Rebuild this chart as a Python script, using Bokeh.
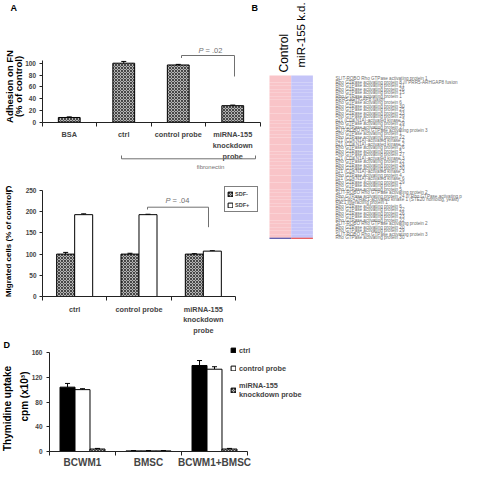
import math
from bokeh.plotting import figure
from bokeh.models import (Range1d, FixedTicker, Label, Arrow, Whisker, TeeHead,
                          Legend, LegendItem, ColumnDataSource)
from bokeh.layouts import column, row
from bokeh.embed import file_html
from bokeh.resources import INLINE
from bokeh.core.properties import value

# ---------------- data ----------------
# Panel A: adhesion on fibronectin (% of control)
a_categories = ["BSA", "ctrl", "control probe", "miRNA-155\nknockdown\nprobe"]
a_adhesion = [8, 100, 97, 28]
a_adhesion_err = [1, 3, 1, 1]
a_yticks = [0, 20, 40, 60, 80, 100]

# Panel B: expression heat map
b_columns = ["Control", "miR-155 k.d."]
b_column_colors = ["#f9c4c8", "#c4c4f8"]
b_key_colors = ["#2c2c96", "#e02c2c"]
b_genes = [
    "SLIT-ROBO Rho GTPase activating protein 1",
    "Rho GTPase activating protein 8 /// PRR5-ARHGAP8 fusion",
    "Rho GTPase activating protein 21",
    "Rho GTPase activating protein 26",
    "Rho GTPase activating protein 15",
    "Rho GTPase activating protein 1",
    "PRR5-ARHGAP8 fusion",
    "Rho GTPase activating protein 6",
    "Rho GTPase activating protein 30",
    "Rho GTPase activating protein 25",
    "Rho GTPase activating protein 23",
    "Rho GTPase activating protein 29",
    "p21 (CDKN1A)-activated kinase 2",
    "Rho GTPase activating protein 29",
    "Rho GTPase activating protein 27",
    "SLIT-ROBO Rho GTPase activating protein 3",
    "Rho GTPase activating protein 1",
    "Rho GTPase activating protein 22",
    "p21 (CDKN1A)-activated kinase 2",
    "p21 (CDKN1A)-activated kinase 2",
    "Rho GTPase activating protein 26",
    "Rho GTPase activating protein 5",
    "Rho GTPase activating protein 27",
    "p21 (CDKN1A)-activated kinase 3",
    "Rho GTPase activating protein 22",
    "Rho GTPase activating protein 24",
    "Rho GTPase activating protein 30",
    "p21 (CDKN1A)-activated kinase 3",
    "Rho GTPase activating protein 4",
    "p21 (CDKN1A)-activated kinase 6",
    "Rho GTPase activating protein 29",
    "Rho GTPase activating protein 7",
    "Rho GTPase activating protein 5",
    "SLIT-ROBO Rho GTPase activating protein 2",
    "Rho GTPase activating protein 24 /// Rho GTPase activating p",
    "p21/Cdc42/Rac1-activated kinase 1 (STE20 homolog, yeast)",
    "Rac1 interacting protein 1",
    "Rho GTPase activating protein 6",
    "Rho GTPase activating protein 22",
    "Rho GTPase activating protein 26",
    "Rho GTPase activating protein 23",
    "Rho GTPase activating protein 22",
    "SLIT-ROBO Rho GTPase activating protein 2",
    "Rho GTPase activating protein 20",
    "Rho GTPase activating protein 29",
    "SLIT-ROBO Rho GTPase activating protein 3",
    "Rho GTPase activating protein 30",
]

# Panel C: migration (% of control)
c_categories = ["ctrl", "control probe", "miRNA-155\nknockdown\nprobe"]
c_series = ["SDF-", "SDF+"]
c_sdf_minus = [100, 100, 100]
c_sdf_minus_err = [4, 2, 1]
c_sdf_plus = [193, 193, 107]
c_sdf_plus_err = [2, 1, 1]
c_yticks = [0, 50, 100, 150, 200, 250]

# Panel D: thymidine uptake (cpm x10^3)
d_categories = ["BCWM1", "BMSC", "BCWM1+BMSC"]
d_series = ["ctrl", "control probe", "miRNA-155\nknockdown probe"]
d_ctrl = [104, 1, 139]
d_ctrl_err = [6, 0.5, 8]
d_control_probe = [100, 1, 133]
d_control_probe_err = [1.5, 0.5, 4]
d_knockdown = [4, 1, 4]
d_knockdown_err = [1, 0.5, 1]
d_yticks = [0, 40, 80, 120, 160]

# ---------------- styles ----------------
SANS = "'Liberation Sans', Arial, sans-serif"
GREY = "#707070"
HATCH = dict(fill_color="#b4b4b4", hatch_pattern="diagonal_cross", hatch_color="#2a2a2a",
             hatch_scale=3.0, hatch_weight=0.8)


def make_fig(w, h, x0, pxx, y0, pxy):
    """Frame covers the whole figure; (x0, y0) is the pixel position of the data origin."""
    p = figure(width=w, height=h,
               x_range=Range1d(-x0 / pxx, (w - x0) / pxx),
               y_range=Range1d(-(h - y0) / pxy, y0 / pxy),
               min_border=0, toolbar_location=None, output_backend="svg")
    p.outline_line_color = None
    p.grid.visible = False
    p.background_fill_color = None
    return p


def style_axes(p, labels, x_size, x_standoff, yticks, ybound, y_size, y_standoff):
    n = len(labels)
    centers = [i + 0.5 for i in range(n)]
    xa = p.xaxis[0]
    xa.fixed_location = 0
    xa.ticker = FixedTicker(ticks=centers, minor_ticks=list(range(n + 1)))
    xa.bounds = (0, n)
    xa.major_label_overrides = dict(zip(centers, labels))
    xa.major_tick_out = 0
    xa.major_tick_in = 0
    xa.minor_tick_out = 4
    xa.minor_tick_in = 0
    xa.axis_line_color = "#222222"
    xa.minor_tick_line_color = "#222222"
    xa.major_label_text_font = SANS
    xa.major_label_text_font_size = x_size
    xa.major_label_text_font_style = "bold"
    xa.major_label_standoff = x_standoff
    ya = p.yaxis[0]
    ya.fixed_location = 0
    ya.ticker = FixedTicker(ticks=yticks)
    ya.bounds = (0, ybound)
    ya.major_tick_out = 3
    ya.major_tick_in = 0
    ya.minor_tick_line_color = None
    ya.axis_line_color = "#222222"
    ya.major_tick_line_color = "#222222"
    ya.major_label_text_font = SANS
    ya.major_label_text_font_size = y_size
    ya.major_label_text_font_style = "bold"
    ya.major_label_standoff = y_standoff


def add_err(p, xs, tops, errs):
    src = ColumnDataSource(dict(x=xs, top=tops, upper=[t + e for t, e in zip(tops, errs)]))
    p.add_layout(Whisker(source=src, base="x", lower="top", upper="upper", dimension="height",
                         line_color="black", line_width=1, lower_head=None,
                         upper_head=TeeHead(size=5, line_color="black", line_width=1)))


def seg(p, x0, y0, x1, y1, color=GREY):
    p.add_layout(Arrow(end=None, x_start=x0, y_start=y0, x_end=x1, y_end=y1,
                       line_color=color, line_width=1))


def lab(p, x, y, text, size, style="normal", color="black",
        align="left", baseline="top", angle=0.0):
    p.add_layout(Label(x=x, y=y, text=text, text_font_size=f"{size}px", text_font=SANS,
                       text_font_style=style, text_color=color, text_align=align,
                       text_baseline=baseline, angle=angle))


LEFT_W = 263

# ---------------- Panel A ----------------
A_W, A_H = LEFT_W, 178
a_x0, a_pxx = 41.5, 54.5
a_y0, a_pxy = 121.7, 0.59
pA = make_fig(A_W, A_H, a_x0, a_pxx, a_y0, a_pxy)


def aX(ix):
    return (ix - a_x0) / a_pxx


def aY(iy):
    return (a_y0 - iy) / a_pxy


a_x = [i + 0.5 for i in range(len(a_categories))]
pA.vbar(x=a_x, top=a_adhesion, width=0.4, line_color="black", line_width=1, **HATCH)
add_err(pA, a_x, a_adhesion, a_adhesion_err)
style_axes(pA, a_categories, "7.3px", 4, a_yticks, 105, "6.5px", 3)

lab(pA, aX(10), aY(2), "A", 9, style="bold")
lab(pA, aX(251), aY(2), "B", 9, style="bold")
lab(pA, aX(8.5), aY(86), "Adhesion on FN", 9.5, style="bold", align="center", baseline="middle", angle=math.pi / 2)
lab(pA, aX(18), aY(86), "(% of control)", 9.5, style="bold", align="center", baseline="middle", angle=math.pi / 2)
# P bracket
seg(pA, aX(181), aY(55), aX(234), aY(55))
seg(pA, aX(181), aY(55), aX(181), aY(57.5))
seg(pA, aX(234), aY(55), aX(234), aY(76))
lab(pA, aX(198), aY(50), "P", 7.5, style="italic", color=GREY, align="left", baseline="middle")
lab(pA, aX(205), aY(50), "= .02", 7.5, color=GREY, align="left", baseline="middle")
# fibronectin bracket
seg(pA, aX(121), aY(158.3), aX(255), aY(158.3))
seg(pA, aX(121), aY(158.3), aX(121), aY(155))
seg(pA, aX(255), aY(158.3), aX(255), aY(155))
lab(pA, aX(210), aY(166), "fibronectin", 6, color=GREY, align="center", baseline="middle")

# ---------------- Panel C ----------------
C_W, C_H = LEFT_W, 160
c_x0, c_pxx = 42.0, 64.33
c_y0, c_pxy = 118.0, 0.424
pC = make_fig(C_W, C_H, c_x0, c_pxx, c_y0, c_pxy)


def cX(ix):
    return (ix - c_x0) / c_pxx


def cY(iy):
    return (c_y0 - iy) / c_pxy


c_bw = 0.28
c_x1 = [i + 0.5 - c_bw / 2 for i in range(len(c_categories))]
c_x2 = [i + 0.5 + c_bw / 2 for i in range(len(c_categories))]
rc1 = pC.vbar(x=c_x1, top=c_sdf_minus, width=c_bw, line_color="black", line_width=1, **HATCH)
rc2 = pC.vbar(x=c_x2, top=c_sdf_plus, width=c_bw, line_color="black", line_width=1, fill_color="white")
add_err(pC, c_x1, c_sdf_minus, c_sdf_minus_err)
add_err(pC, c_x2, c_sdf_plus, c_sdf_plus_err)
style_axes(pC, c_categories, "7.3px", 4, c_yticks, 250, "6.5px", 3)

lab(pC, cX(5), cY(5), "C", 9, style="bold")
lab(pC, cX(7.5), cY(65), "Migrated cells (% of control)", 8, style="bold",
    align="center", baseline="middle", angle=math.pi / 2)
seg(pC, cX(147), cY(28.7), cX(208), cY(28.7))
seg(pC, cX(147), cY(28.7), cX(147), cY(31))
seg(pC, cX(208), cY(28.7), cX(208), cY(48.7))
lab(pC, cX(165), cY(22), "P", 7.5, style="italic", color=GREY, align="left", baseline="middle")
lab(pC, cX(172), cY(22), "= .04", 7.5, color=GREY, align="left", baseline="middle")

legC = Legend(items=[LegendItem(label=c_series[0], renderers=[rc1]),
                     LegendItem(label=c_series[1], renderers=[rc2])],
              location=(224, C_H - 34),
              border_line_color="black", border_line_width=1, background_fill_color="white",
              padding=2, spacing=2, margin=0, glyph_width=6, glyph_height=6,
              label_standoff=2, label_height=9,
              label_text_font=SANS, label_text_font_size="5.5px", label_text_font_style="bold")
pC.add_layout(legC)

# ---------------- Panel D ----------------
D_W, D_H = 464, 131
d_x0, d_pxx = 49.0, 66.0
d_y0, d_pxy = 113.0, 0.61875
pD = make_fig(D_W, D_H, d_x0, d_pxx, d_y0, d_pxy)


def dX(ix):
    return (ix - d_x0) / d_pxx


def dY(iy):
    return (d_y0 - iy) / d_pxy


d_bw = 0.227
d_x1 = [i + 0.5 - d_bw for i in range(len(d_categories))]
d_x2 = [i + 0.5 for i in range(len(d_categories))]
d_x3 = [i + 0.5 + d_bw for i in range(len(d_categories))]
rd1 = pD.vbar(x=d_x1, top=d_ctrl, width=d_bw, line_color="black", line_width=1, fill_color="black")
rd2 = pD.vbar(x=d_x2, top=d_control_probe, width=d_bw, line_color="black", line_width=1, fill_color="white")
rd3 = pD.vbar(x=d_x3, top=d_knockdown, width=d_bw, line_color="black", line_width=1, **HATCH)
add_err(pD, d_x1, d_ctrl, d_ctrl_err)
add_err(pD, d_x2, d_control_probe, d_control_probe_err)
add_err(pD, d_x3, d_knockdown, d_knockdown_err)
style_axes(pD, d_categories, "10px", 1, d_yticks, 160, "6.5px", 4)

lab(pD, dX(3), dY(1), "D", 9, style="bold")
lab(pD, dX(7), dY(70), "Thymidine uptake", 10, style="bold", align="center", baseline="middle", angle=math.pi / 2)
lab(pD, dX(24), dY(58), "cpm (x10\u00b3)", 10, style="bold", align="center", baseline="middle", angle=math.pi / 2)

legD = Legend(items=[LegendItem(label=d_series[0], renderers=[rd1]),
                     LegendItem(label=d_series[1], renderers=[rd2]),
                     LegendItem(label=d_series[2], renderers=[rd3])],
              location=(230, 70),
              border_line_color=None, background_fill_alpha=0,
              padding=0, spacing=8, margin=0, glyph_width=6, glyph_height=6,
              label_standoff=3, label_height=10,
              label_text_font=SANS, label_text_font_size="7.3px", label_text_font_style="bold")
pD.add_layout(legD)

# ---------------- Panel B ----------------
B_W, B_H = 464 - LEFT_W, A_H + C_H
b_x0, b_colw = 6.0, 21.7
b_y0, b_rowh = 75.0, 3.45
pB = figure(width=B_W, height=B_H,
            x_range=Range1d(-b_x0 / b_colw, (B_W - b_x0) / b_colw),
            y_range=Range1d((B_H - b_y0) / b_rowh, -b_y0 / b_rowh),
            x_axis_location=None, y_axis_location=None, min_border=0,
            toolbar_location=None, output_backend="svg")
pB.outline_line_color = None
pB.grid.visible = False


def bX(ix):
    return (ix - b_x0) / b_colw


def bY(iy):
    return (iy - b_y0) / b_rowh


n_genes = len(b_genes)
cell_left, cell_right, cell_top, cell_bottom, cell_color = [], [], [], [], []
for ci, ccol in enumerate(b_column_colors):
    for gi in range(n_genes):
        cell_left.append(ci)
        cell_right.append(ci + 1)
        cell_top.append(gi)
        cell_bottom.append(gi + 1)
        cell_color.append(ccol)
pB.quad(left=cell_left, right=cell_right, top=cell_top, bottom=cell_bottom,
        fill_color=cell_color, line_color=None)
pB.quad(left=[0, 1], right=[1, 2], top=[n_genes, n_genes], bottom=[n_genes + 0.35, n_genes + 0.35],
        fill_color=b_key_colors, line_color=None)
pB.text(x=[bX(72)] * n_genes, y=[g + 0.95 for g in range(n_genes)], text=b_genes,
        text_font=value(SANS), text_font_size="4.6px", text_color="#6c6c6c",
        text_align="left", text_baseline="middle")
lab(pB, bX(20), bY(72), b_columns[0], 12, align="left", baseline="middle", angle=math.pi / 2)
lab(pB, bX(37), bY(67), b_columns[1], 11.5, align="left", baseline="middle", angle=math.pi / 2)

layout = column(row(column(pA, pC), pB), pD)
open("out.html", "w").write(file_html(layout, INLINE))
